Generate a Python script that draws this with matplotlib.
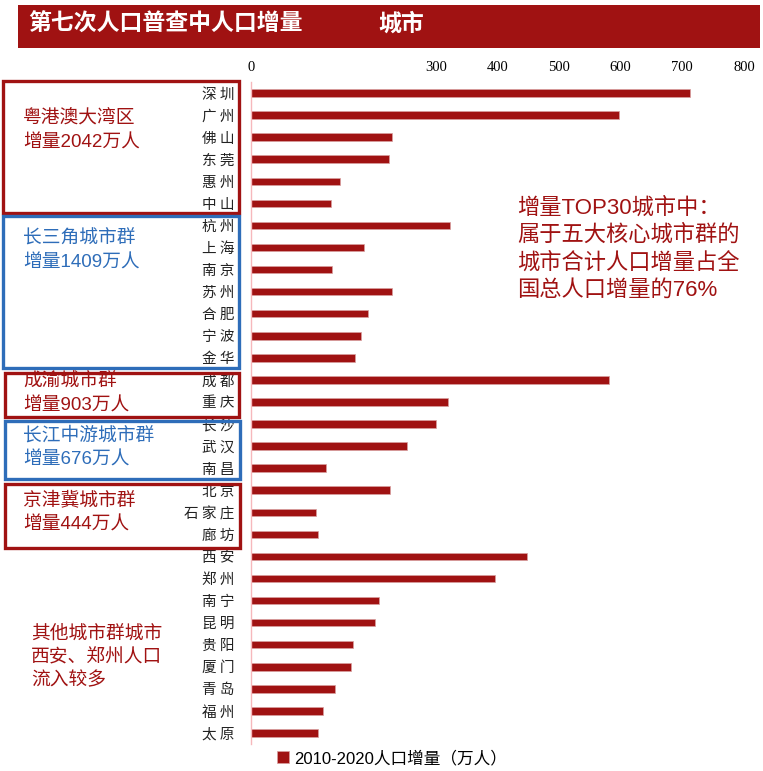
import matplotlib.pyplot as plt
from matplotlib.patches import Rectangle
from matplotlib.font_manager import FontProperties

plt.rcParams['font.family'] = ['Noto Sans CJK SC', 'DejaVu Sans']
mixed = ['Liberation Sans', 'Noto Sans CJK SC']

# data: city population increase 2010-2020 (10k people)
cities = ['深圳', '广州', '佛山', '东莞', '惠州', '中山',
          '杭州', '上海', '南京', '苏州', '合肥', '宁波', '金华',
          '成都', '重庆',
          '长沙', '武汉', '南昌',
          '北京', '石家庄', '廊坊',
          '西安', '郑州', '南宁', '昆明', '贵阳', '厦门', '青岛', '福州', '太原']
growth = [713, 597, 229, 224, 144, 130,
          323, 184, 131, 228, 190, 179, 168,
          581, 320,
          300, 253, 121,
          226, 106, 109,
          448, 396, 208, 202, 165, 162, 136, 117, 109]
ticks = [0, 300, 400, 500, 600, 700, 800]

red = '#A01212'
blue = '#2E6DB9'
W, H = 763, 771

def fx(x):
    return x / W

def fy(y):
    return 1 - y / H

fig = plt.figure(figsize=(7.63, 7.71), dpi=100)

ax = fig.add_axes([fx(251), fy(744), fx(744) - fx(251), fy(82) - fy(744)])
ypos = list(range(len(cities)))
bars = ax.barh(ypos, growth, height=0.34, color=red, edgecolor='#d8a0a0',
               linewidth=0.5, label='2010-2020人口增量（万人）')
ax.set_xlim(0, 800)
ax.set_ylim(len(cities) - 0.5, -0.5)
ax.xaxis.tick_top()
ax.set_xticks(ticks)
ax.set_xticklabels([str(t) for t in ticks], family='Liberation Serif', fontsize=10.5)
ax.set_yticks(ypos)
ax.set_yticklabels([' '.join(c) for c in cities], fontsize=10.5, color='#222222')
ax.tick_params(axis='x', length=0, pad=6)
ax.tick_params(axis='y', length=0, pad=12)
for s in ['top', 'right', 'bottom']:
    ax.spines[s].set_visible(False)
ax.spines['left'].set_color('#f6b8bc')
ax.spines['left'].set_linewidth(1)

# title bar
fig.add_artist(Rectangle((fx(18), fy(48)), fx(760) - fx(18), fy(5) - fy(48),
                         transform=fig.transFigure, color=red, lw=0))
fig.text(fx(28), fy(24), '第七次人口普查中人口增量', color='white', fontsize=16.5,
         fontweight='bold', va='center', ha='left')
fig.text(fx(378), fy(24), '城市', color='white', fontsize=16.5,
         fontweight='bold', va='center', ha='left')

# group boxes
boxes = [(3, 81, 239, 213, red), (3, 216, 239, 368, blue), (5, 373, 239, 417, red),
         (5, 421, 240, 479, blue), (5, 484, 240, 548, red)]
for x0, y0, x1, y1, c in boxes:
    fig.add_artist(Rectangle((fx(x0), fy(y1)), fx(x1) - fx(x0), fy(y0) - fy(y1),
                             transform=fig.transFigure, fill=False, ec=c, lw=2.4))

group_text = [('粤港澳大湾区', '增量2042万人', 119, red),
              ('长三角城市群', '增量1409万人', 239, blue),
              ('成渝城市群', '增量903万人', 382, red),
              ('长江中游城市群', '增量676万人', 436, blue),
              ('京津冀城市群', '增量444万人', 501, red)]
for l1, l2, yy, c in group_text:
    fig.text(fx(23), fy(yy), l1, color=c, fontsize=13.5, va='center', ha='left',
             family=mixed)
    fig.text(fx(23), fy(yy + 24), l2, color=c, fontsize=13.5, va='center', ha='left',
             family=mixed)

for i, line in enumerate(['其他城市群城市', '西安、郑州人口', '流入较多']):
    fig.text(fx(31), fy(633 + i * 23.5), line, color=red, fontsize=13.5,
             va='center', ha='left')

for i, line in enumerate(['增量TOP30城市中：', '属于五大核心城市群的',
                          '城市合计人口增量占全', '国总人口增量的76%']):
    fig.text(fx(517), fy(208 + i * 27.5), line, color=red, fontsize=16,
             va='center', ha='left', family=mixed)

fig.legend(handles=[bars], loc='center left', bbox_to_anchor=(fx(277), fy(758)),
           frameon=False, prop=FontProperties(family=mixed, size=12),
           handlelength=0.7, handleheight=0.7,
           handletextpad=0.3, borderpad=0, borderaxespad=0)

fig.savefig('out.png', dpi=100)
